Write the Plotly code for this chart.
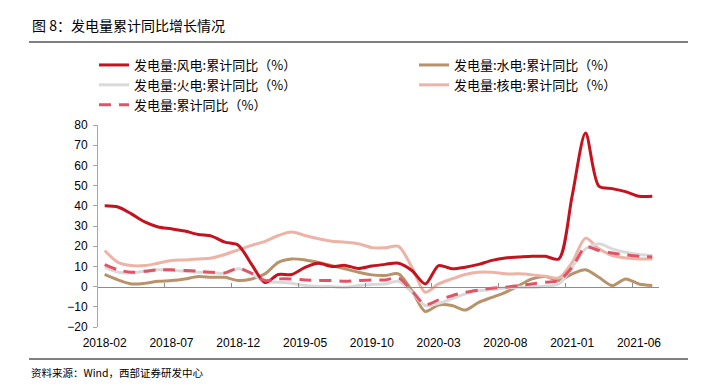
import plotly.graph_objects as go

# Months 2018-02 .. 2021-07 (category positions 0..41)
months = []
for y in range(2018, 2022):
    for m in range(1, 13):
        if (y == 2018 and m < 2) or (y == 2021 and m > 7):
            continue
        months.append(f"{y}-{m:02d}")

tick_labels = ["2018-02", "2018-07", "2018-12", "2019-05", "2019-10",
               "2020-03", "2020-08", "2021-01", "2021-06"]

wind = [40, 39.4, 36, 32, 29.5, 28.6, 27.5, 25.8, 25, 22, 20.5, 11, 2, 6, 6, 9.5,
        11.5, 10, 10.5, 9, 10.2, 11, 11.6, 8, 1.3, 10.4, 8.8, 9.6, 11, 13,
        14.2, 14.6, 15, 15, 13.7, 45, 76, 49.7, 48.5, 47, 44.7, 44.7]
hydro = [6, 3.3, 1.3, 1.6, 2.6, 3, 3.8, 5, 4.6, 4.6, 3, 3.8, 6.3, 12, 13.7, 13.2,
         12, 10.4, 8.8, 7.1, 5.8, 5.5, 6.3, -2, -12.3, -9.1, -9.4, -11.6, -7.8, -5.3,
         -2.8, 0.5, 3.8, 5, 3, 6.3, 8.3, 4.6, 0.5, 3.8, 1.3, 0.5]
thermal = [9.6, 7.1, 6.8, 7.6, 8.3, 8, 7.6, 7.1, 6.8, 6.6, 8.8, 6.3, 2.5, 2.2, 1.7, 0.5,
           0, 0, -0.3, 0.5, 1.1, 1.3, 2.6, -2.8, -9.4, -8.3, -6.1, -3.6, -2, -1.5,
           -0.7, -0.3, -0.3, 0.2, 1.3, 9.6, 18.7, 21.2, 18.7, 17, 15.9, 15.4]
nuclear = [17.9, 12, 10.4, 10.4, 11.6, 12.9, 13.2, 13.7, 14.2, 15.9, 18.2, 20.4, 22.4,
           25.3, 27, 25.3, 23.7, 22.5, 22, 21.2, 19.3, 19.2, 19.9, 9.6, -2.8, 1.3, 3.8,
           6, 7.1, 7.1, 6.3, 6.3, 5.8, 5.1, 4.3, 12, 24, 18.7, 15.4, 14.2, 13.7, 13.7]
total = [10.9, 8.3, 7.1, 7.6, 8.3, 8.3, 8, 7.6, 7.1, 6.8, 9.1, 6.6, 3, 3.8, 3.8, 3.3,
         3, 3, 2.6, 3, 3.3, 3.3, 4.3, -2, -8.9, -6.6, -4.5, -2.8, -1.7, -0.8,
         -0.3, 0.5, 1.3, 2.2, 3, 9.6, 19.5, 17.9, 16.6, 15.7, 15, 14.6]

names = ["发电量:风电:累计同比（%）", "发电量:水电:累计同比（%）",
         "发电量:火电:累计同比（%）", "发电量:核电:累计同比（%）",
         "发电量:累计同比（%）"]
series = [wind, hydro, thermal, nuclear, total]
colors = ["#C4121E", "#B8926A", "#D9D9D9", "#EDB3A6", "#E05468"]
dashes = ["solid", "solid", "solid", "solid", "12px,8px"]
draw_order = [1, 3, 2, 0, 4]

x = list(range(len(months)))
L, T, PW, PH = 98, 125, 561, 202
W, H = 708, 388


def px(xp):
    return (xp - L) / PW


def py(yp):
    return (T + PH - yp) / PH


fig = go.Figure()
for k in draw_order:
    fig.add_trace(go.Scatter(
        x=x, y=series[k], name=names[k], mode="lines",
        line=dict(color=colors[k], width=3, dash=dashes[k], shape="spline", smoothing=0.8),
        legendrank=k + 1, hoverinfo="skip"))

# dummy trace to create the overlay axis at y = 0
fig.add_trace(go.Scatter(x=[], y=[], xaxis="x2", showlegend=False, hoverinfo="skip"))

tickvals = [months.index(t) for t in tick_labels]

fig.update_layout(
    width=W, height=H,
    margin=dict(l=L, r=W - L - PW, t=T, b=H - T - PH, autoexpand=False),
    paper_bgcolor="white", plot_bgcolor="white",
    font=dict(family="Liberation Sans, Arial, sans-serif", size=12, color="#000000"),
    showlegend=True,
    legend=dict(orientation="h", x=px(94), xanchor="left", y=py(50), yanchor="top",
                entrywidth=275, entrywidthmode="pixels", traceorder="normal",
                font=dict(family="Noto Sans CJK SC, sans-serif", size=13, color="#000000"),
                bgcolor="rgba(0,0,0,0)", itemwidth=30),
    xaxis=dict(range=[-0.5, len(months) - 0.5], tickvals=tickvals, ticktext=tick_labels,
               showline=False, zeroline=False, showgrid=False, ticks="",
               ticklabelstandoff=7, tickfont=dict(size=12, color="#000000")),
    xaxis2=dict(range=[-0.5, len(months) - 0.5], overlaying="x", anchor="free", position=0.2,
                showline=True, linecolor="#8C8C8C", linewidth=1, showgrid=False, zeroline=False,
                tickvals=[v - 0.5 for v in tickvals[1:]], ticks="inside", ticklen=4,
                tickcolor="#8C8C8C", showticklabels=False),
    yaxis=dict(range=[-20, 80], dtick=10, showgrid=False, zeroline=False,
               showline=True, linecolor="#A6A6A6", linewidth=1, ticks="outside",
               ticklen=4, tickcolor="#A6A6A6", ticklabelstandoff=3,
               tickfont=dict(size=12, color="#000000")),
    shapes=[
        dict(type="line", xref="paper", yref="paper", x0=px(29), x1=px(688),
             y0=py(42), y1=py(42), line=dict(color="#000000", width=1)),
        dict(type="line", xref="paper", yref="paper", x0=px(29), x1=px(688),
             y0=py(359), y1=py(359), line=dict(color="#000000", width=1)),
    ],
    annotations=[
        dict(text="图 8：发电量累计同比增长情况", xref="paper", yref="paper",
             x=px(30), y=py(25), xanchor="left", yanchor="middle", showarrow=False,
             font=dict(family="Noto Sans CJK SC, sans-serif", size=14, color="#000000")),
        dict(text="资料来源：Wind，西部证券研发中心", xref="paper", yref="paper",
             x=px(29), y=py(372), xanchor="left", yanchor="middle", showarrow=False,
             font=dict(family="Noto Sans CJK SC, sans-serif", size=10.5, color="#000000")),
    ],
)

fig.write_html("out.html", config={"displayModeBar": False},
               post_script="document.body.style.margin='0';")
